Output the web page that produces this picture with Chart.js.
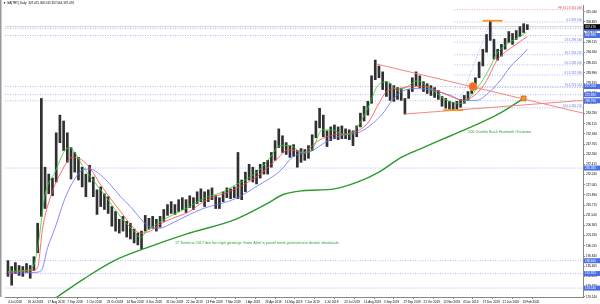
<!DOCTYPE html>
<html>
<head>
<meta charset="utf-8">
<script src="https://cdn.jsdelivr.net/npm/chart.js@4.4.0/dist/chart.umd.min.js"></script>
<style>
  html, body { margin: 0; padding: 0; background: #fff; }
  #wrap { width: 600px; height: 304px; }
</style>
</head>
<body>
<div id="wrap"><canvas id="chart" width="600" height="304"></canvas></div>
<script>
// --- chart values (bar index on x, price on y) ---
const symbolTitle = '\u25BC GA(TRY),Daily  307.415 308.015 307.064 307.476';

const xTickBars = [0, 16, 32, 48, 64, 80, 96, 112, 128, 144, 160, 176, 192, 208, 224, 240, 256, 272, 288, 304, 320, 336, 352, 368, 384, 400, 416];
const xTickLabels = ['4 Jul 2018', '26 Jul 2018', '17 Aug 2018', '7 Sep 2018', '1 Oct 2018', '23 Oct 2018', '14 Nov 2018', '6 Dec 2018', '31 Dec 2018',
  '22 Jan 2019', '13 Feb 2019', '7 Mar 2019', '1 Apr 2019', '23 Apr 2019', '16 May 2019', '7 Jun 2019', '1 Jul 2019', '23 Jul 2019',
  '14 Aug 2019', '5 Sep 2019', '27 Sep 2019', '21 Oct 2019', '12 Nov 2019', '4 Dec 2019', '27 Dec 2019', '21 Jan 2020', '13 Feb 2020'];

const yTicks = [170.140, 175.315, 180.490, 185.665, 190.840, 196.015, 201.190, 206.365, 211.540, 216.715, 221.890, 227.065, 232.240, 237.415,
  242.590, 247.765, 252.940, 258.115, 263.290, 268.465, 273.640, 278.815, 283.990, 289.165, 294.340, 299.515, 304.690, 309.865, 315.040];

// one range bar every 3 sessions
const candleStep = 3;
const candleHighs = [188.5, 185.5, 187.5, 186.0, 185.5, 187.0, 186.0, 190.5, 207.5, 271.0,
  236.0, 232.5, 230.5, 253.5, 262.5, 259.5, 253.5, 246.0, 243.5, 241.0,
  236.0, 232.5, 237.0, 231.0, 224.5, 226.0, 222.5, 221.0, 216.0, 213.5,
  209.5, 211.0, 208.5, 207.5, 204.5, 202.5, 203.5, 211.5, 210.0, 211.0,
  209.5, 211.0, 214.5, 217.0, 218.5, 217.0, 219.5, 220.5, 219.5, 221.5,
  220.5, 223.5, 225.0, 223.5, 224.5, 225.5, 221.5, 220.5, 223.5, 225.5,
  225.0, 226.0, 243.5, 229.5, 233.5, 237.5, 236.0, 234.5, 237.5, 238.5,
  239.5, 243.5, 249.5, 255.5, 252.0, 248.5, 247.0, 247.5, 244.5, 245.5,
  245.0, 247.0, 252.5, 259.5, 266.0, 262.5, 254.5, 256.5, 257.5, 256.5,
  257.0, 255.5, 255.0, 254.5, 257.0, 263.5, 267.0, 269.5, 282.5, 290.5,
  287.5, 284.5, 279.5, 278.5, 277.5, 276.5, 276.0, 271.0, 275.5, 281.5,
  284.5, 282.5, 279.5, 278.5, 277.5, 276.5, 275.0, 272.0, 271.0, 269.5,
  269.0, 269.5, 270.5, 272.5, 274.5, 278.5, 281.5, 289.5, 296.0, 303.5,
  310.5, 301.0, 296.0, 298.5, 301.5, 305.0, 304.0, 305.5, 307.5, 309.0,
  308.5];
const candleLows = [180.5, 176.0, 182.0, 181.0, 180.5, 182.5, 179.5, 183.5, 192.5, 211.0,
  215.0, 222.5, 221.5, 228.5, 248.5, 244.5, 238.5, 230.0, 233.5, 229.5,
  226.0, 221.0, 228.5, 221.0, 212.0, 216.0, 214.5, 212.5, 206.0, 203.5,
  202.5, 203.5, 200.5, 199.5, 197.5, 196.5, 194.5, 203.5, 204.5, 205.0,
  203.5, 205.5, 208.5, 211.5, 212.5, 212.0, 213.5, 214.5, 213.0, 215.5,
  214.5, 217.5, 218.5, 216.0, 218.5, 219.5, 215.0, 215.0, 218.5, 220.5,
  220.0, 220.5, 220.0, 219.5, 223.5, 229.5, 228.5, 227.5, 230.5, 232.5,
  232.5, 236.0, 239.5, 246.0, 243.5, 242.5, 241.0, 241.5, 236.0, 238.5,
  239.5, 240.5, 244.5, 251.0, 256.0, 251.5, 246.5, 249.5, 250.5, 250.0,
  250.5, 250.5, 250.0, 247.0, 251.5, 256.5, 259.5, 262.5, 268.5, 280.5,
  281.5, 275.5, 272.0, 270.0, 269.5, 270.5, 270.0, 263.0, 271.0, 274.5,
  277.5, 276.5, 274.5, 273.5, 272.5, 271.5, 270.5, 267.0, 266.0, 265.5,
  265.0, 265.5, 266.5, 268.5, 270.0, 273.5, 275.5, 281.5, 287.5, 294.5,
  300.5, 291.0, 290.5, 292.5, 296.0, 299.5, 298.5, 301.0, 302.5, 304.5,
  306.0];

// moving averages: [bar, price]
const maFast = [[0, 183.0], [14, 183.5], [20, 185.0], [24, 195.0], [30, 222.0], [38, 233.5], [46, 244.5], [50, 246.0], [54, 243.5], [62, 235.0],
  [70, 228.5], [78, 222.0], [86, 215.0], [94, 208.5], [102, 203.5], [107, 200.0], [112, 203.5], [120, 207.0], [131, 211.0], [144, 215.0],
  [158, 220.0], [174, 223.5], [184, 227.0], [192, 229.5], [204, 235.0], [212, 241.0], [220, 247.0], [228, 247.0], [238, 243.5], [246, 245.0],
  [254, 255.0], [262, 255.0], [272, 252.5], [280, 254.5], [291, 266.0], [299, 277.5], [307, 279.5], [315, 275.0], [323, 277.0], [331, 280.0],
  [339, 277.0], [347, 273.5], [355, 270.0], [366, 268.5], [374, 272.0], [382, 278.5], [390, 287.0], [395, 293.5], [400, 297.0], [407, 300.0],
  [414, 302.5], [419, 304.5]];
const maMid = [[0, 182.5], [20, 183.5], [24, 185.0], [28, 205.0], [35, 222.0], [43, 233.5], [52, 241.0], [59, 240.0], [67, 235.0], [75, 227.0],
  [83, 220.0], [91, 213.5], [99, 207.0], [107, 202.5], [115, 203.5], [123, 207.0], [131, 209.5], [147, 213.5], [158, 218.5], [184, 225.0],
  [203, 232.0], [219, 241.0], [227, 245.0], [238, 243.5], [251, 249.5], [264, 252.5], [278, 253.5], [291, 258.5], [300, 268.5], [307, 275.0],
  [315, 276.0], [326, 277.0], [336, 277.0], [347, 275.0], [358, 272.0], [368, 270.0], [379, 273.5], [387, 280.0], [395, 290.0], [403, 295.0],
  [411, 298.5], [420, 302.5]];
const maSlow = [[0, 182.0], [22, 182.5], [27, 183.5], [32, 195.0], [38, 205.0], [46, 220.0], [54, 230.0], [62, 235.0], [67, 235.0], [75, 232.0],
  [83, 227.0], [91, 221.0], [99, 216.0], [107, 210.0], [115, 205.5], [123, 205.0], [131, 207.0], [147, 212.0], [158, 215.0], [184, 220.0],
  [203, 227.0], [219, 233.5], [232, 242.0], [243, 243.5], [259, 249.5], [272, 252.5], [283, 253.5], [302, 262.5], [312, 271.0], [320, 275.0],
  [331, 276.0], [344, 275.0], [358, 272.5], [368, 270.0], [379, 270.0], [388, 273.5], [398, 280.0], [406, 287.0], [414, 292.0], [420, 296.0]];
const ma200 = [[34, 167.5], [62, 179.5], [86, 188.5], [112, 195.0], [144, 202.0], [184, 209.5], [211, 218.0], [222, 222.0], [238, 224.0],
  [264, 225.0], [283, 228.5], [300, 233.5], [318, 241.0], [334, 245.5], [358, 252.0], [385, 259.5], [398, 263.5], [417, 271.0]];

// drawn objects
const hLines = [306.480, 302.995, 277.010, 272.890, 269.790, 235.580, 188.460, 181.925, 174.540];
const lastPrice = 307.476;
const fibStartBar = 361;
const fibLevels = [['0.0', 309.90], ['23.6', 299.59], ['38.2', 293.21], ['50.0', 288.05], ['61.8', 282.89], ['76.4', 276.51], ['100.0', 266.20]];
const feLevel = ['FE 161.8', 316.08];
const fibSwing = [[363, 265.5], [390, 310.0], [396, 291.0]];
const trendUpper = [[298, 288.5], [465, 263.5]];
const trendLower = [[320, 263.0], [465, 270.0]];
const topMark = [[384, 310.5], [400, 310.5]];
const bottomMark = [[352, 265.0], [368, 265.0]];
const breakCircle = [376, 277.0];
const touchSquare = [417, 271.0];
const note200 = ['200 Günlük Basit Hareketli Ortalama', 372, 254.0];
const noteTrend = ["17 Temmuz 2017'den beri ilgili gösterge Gram Altın'ın pozitif trend görünümüne destek olmaktadır.", 135, 197.5];

const X_MIN = -2.4, X_MAX = 465;
const pts = arr => arr.map(p => ({ x: p[0], y: p[1] }));
const flat = v => [{ x: X_MIN, y: v }, { x: X_MAX, y: v }];

function lineDs(data, color, width, dash, order) {
  return { type: 'line', data, borderColor: color, borderWidth: width, borderDash: dash || [], pointRadius: 0,
    fill: false, order, cubicInterpolationMode: 'monotone' };
}

const datasets = [
  { type: 'bar', data: candleHighs.map((h, i) => ({ x: i * candleStep, y: [candleLows[i], h] })),
    backgroundColor: '#303030', barThickness: 2, grouped: false, order: 10 },
  lineDs(pts(maFast), '#2fd12f', 0.8, null, 5),
  lineDs(pts(maMid), '#ff4a4a', 0.8, null, 5),
  lineDs(pts(maSlow), '#6d6dff', 0.8, null, 5),
  lineDs(pts(ma200), '#2c9a2c', 1.4, null, 4),
  lineDs(flat(lastPrice), '#d0d0d0', 1, null, 12),
  ...hLines.map(v => lineDs(flat(v), '#9aa8f0', 0.8, [1, 1.5], 12)),
  ...fibLevels.map(f => lineDs([{ x: fibStartBar, y: f[1] }, { x: X_MAX, y: f[1] }], '#9aa8f0', 0.8, [1, 1.5], 11)),
  lineDs([{ x: fibStartBar, y: feLevel[1] }, { x: X_MAX, y: feLevel[1] }], '#f08a8a', 0.8, [1, 1.5], 11),
  { ...lineDs(pts(fibSwing), '#9aa8f0', 0.8, [1, 1.5], 11), cubicInterpolationMode: 'default', tension: 0 },
  lineDs(pts(trendUpper), '#f47a72', 0.9, null, 3),
  lineDs(pts(trendLower), '#f47a72', 0.9, null, 3),
  lineDs(pts(topMark), '#f7941d', 1.8, null, 2),
  lineDs(pts(bottomMark), '#f7941d', 1.8, null, 2),
  { type: 'line', data: [{ x: breakCircle[0], y: breakCircle[1] }], showLine: false, pointStyle: 'circle', pointRadius: 4,
    backgroundColor: '#f26a3b', borderColor: '#f7941d', borderWidth: 1, order: 1 },
  { type: 'line', data: [{ x: touchSquare[0], y: touchSquare[1] }], showLine: false, pointStyle: 'rect', pointRadius: 3.4,
    backgroundColor: '#f7941d', borderColor: '#c0652a', borderWidth: 0.8, order: 1 },
];

const overlay = {
  id: 'overlay',
  afterDraw(chart) {
    const { ctx, chartArea: a, scales: { x, y } } = chart;
    ctx.save();
    ctx.fillStyle = '#9a9a9a';
    ctx.fillRect(0, 0, 1.5, a.bottom);

    ctx.textBaseline = 'middle';
    ctx.font = '3px "Liberation Sans"';
    ctx.fillStyle = '#000';
    ctx.fillText(symbolTitle, 3, 3.5);

    // fibo labels at right end of each level
    ctx.textAlign = 'right';
    ctx.fillStyle = '#6f7fdc';
    fibLevels.forEach(f => ctx.fillText(f[0] + ' ' + f[1].toFixed(3), a.right - 1, y.getPixelForValue(f[1]) - 2));
    ctx.fillStyle = '#e05050';
    ctx.fillText(feLevel[0] + ' ' + feLevel[1].toFixed(3), a.right - 1, y.getPixelForValue(feLevel[1]) - 2);

    // green notes
    ctx.textAlign = 'left';
    ctx.fillStyle = '#35a535';
    ctx.font = '3.9px "Liberation Sans"';
    ctx.fillText(note200[0], x.getPixelForValue(note200[1]), y.getPixelForValue(note200[2]));
    ctx.font = '3.8px "Liberation Sans"';
    ctx.fillText(noteTrend[0], x.getPixelForValue(noteTrend[1]), y.getPixelForValue(noteTrend[2]));

    // price boxes on the axis
    ctx.font = '3px "Liberation Sans"';
    const box = (v, bg) => {
      const py = y.getPixelForValue(v);
      ctx.fillStyle = bg;
      ctx.fillRect(a.right + 1, py - 2.5, 16, 5);
      ctx.fillStyle = '#fff';
      ctx.fillText(v.toFixed(3), a.right + 2, py);
    };
    hLines.forEach(v => box(v, '#4d6fe6'));
    box(lastPrice, '#000');
    ctx.restore();
  }
};

new Chart(document.getElementById('chart'), {
  type: 'bar',
  data: { datasets },
  options: {
    responsive: false,
    animation: false,
    layout: { padding: 0 },
    plugins: { legend: { display: false }, tooltip: { enabled: false } },
    scales: {
      x: {
        type: 'linear', min: X_MIN, max: X_MAX, offset: false,
        afterFit: s => { s.height = 7; },
        afterBuildTicks: s => { s.ticks = xTickBars.map(v => ({ value: v })); },
        ticks: { autoSkip: false, maxRotation: 0, align: 'start', padding: 1, color: '#000',
          font: { size: 3, family: 'Liberation Sans' }, callback: (v, i) => xTickLabels[i] },
        grid: { drawOnChartArea: false, tickLength: 2, color: '#888' },
        border: { color: '#888' }
      },
      y: {
        position: 'right', min: 170, max: 318.5,
        afterFit: s => { s.width = 17; },
        afterBuildTicks: s => { s.ticks = yTicks.map(v => ({ value: v })); },
        ticks: { padding: 1, color: '#000', font: { size: 3, family: 'Liberation Sans' }, callback: v => v.toFixed(3) },
        grid: { drawOnChartArea: false, tickLength: 2, color: '#888' },
        border: { color: '#888' }
      }
    }
  },
  plugins: [overlay]
});
</script>
</body>
</html>
